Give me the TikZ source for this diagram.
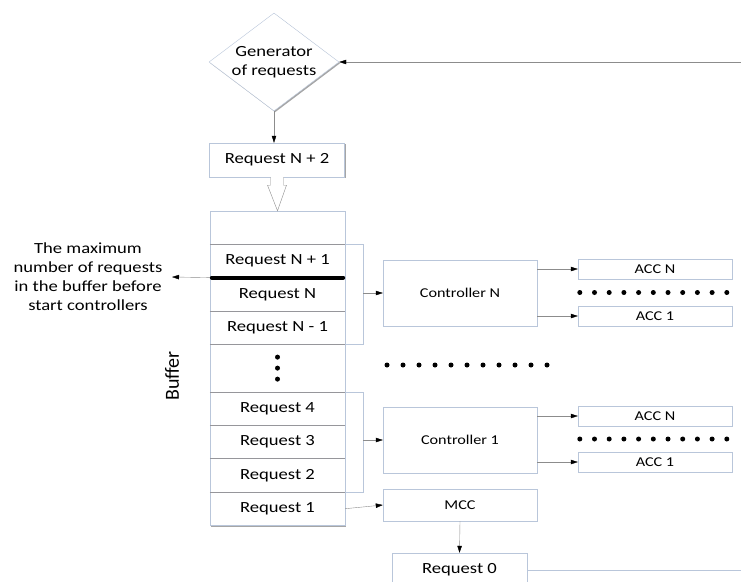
\documentclass[tikz,border=0pt]{standalone}
\usepackage{fontspec}
\setmainfont[FakeStretch=1.2]{Carlito}
\newfontfamily\plainfamily{Carlito}
\usepackage{tikz}
\usetikzlibrary{shapes,arrows.meta,positioning,calc,shadows,backgrounds}

\definecolor{boxline}{RGB}{185,198,218}
\definecolor{divider}{RGB}{150,150,155}
\definecolor{linegray}{RGB}{140,140,140}

\newcommand{\reqfont}{\fontsize{15.5}{19}\selectfont}
\newcommand{\ctrlfont}{\fontsize{13.5}{16}\selectfont}
\newcommand{\buffont}{\plainfamily\fontsize{20}{24}\selectfont}

\tikzset{
  box/.style={draw=boxline, fill=white, inner sep=0pt,
    drop shadow={shadow xshift=1.2pt, shadow yshift=-1.2pt, fill=black, opacity=0.35}},
  reqbox/.style={box, minimum width=135pt, minimum height=34pt, font=\reqfont},
  row/.style={minimum width=135pt, minimum height=33pt, inner sep=0pt, font=\reqfont},
  ctrlbox/.style={box, minimum width=154pt, font=\ctrlfont},
  accbox/.style={box, minimum width=154pt, minimum height=20pt, font=\ctrlfont},
  link/.style={draw=linegray, -{Triangle[length=7pt,width=4.5pt,color=black]}},
  bracket/.style={draw=boxline},
  bdot/.style={circle, fill=black, inner sep=0pt, minimum size=5pt},
}

\begin{document}
\begin{tikzpicture}[x=1pt, y=-1pt]
    \useasboundingbox (0,0) rectangle (741,581);

    % Generator
    \node[box, diamond, aspect=1.33, minimum width=130pt, minimum height=98pt, font=\reqfont, align=center]
        (gen) at (274,62) {Generator\\of requests};
    \coordinate (fbin) at (741,62);
    \draw[link] (fbin) -- (gen.east);

    \node[reqbox] (rn2) at (277,160) {Request N + 2};
    \draw[link] (gen.south) -- (gen.south |- rn2.north);

    % Buffer
    \node[row] (btop) at (277.5,227.5) {};
    \node[row, below=0pt of btop] (rn1) {Request N + 1};
    \node[row, below=0pt of rn1] (rn) {Request N};
    \node[row, below=0pt of rn] (rnm1) {Request N - 1};
    \node[row, minimum height=47pt, below=0pt of rnm1] (bgap) {};
    \node[row, below=0pt of bgap] (r4) {Request 4};
    \node[row, below=0pt of r4] (r3) {Request 3};
    \node[row, below=0pt of r3] (r2) {Request 2};
    \node[row, below=0pt of r2] (r1) {Request 1};
    \begin{scope}[on background layer]
        \draw[box] (btop.north west) rectangle (r1.south east);
    \end{scope}
    \foreach \a in {btop,rn,rnm1,bgap,r4,r3,r2}
        \draw[divider] (\a.south west) -- (\a.south east);
    \foreach \i in {-1,0,1}
        \node[bdot] (bd\i) at ($(bgap.center)+(0,\i*11)$) {};
    \draw[line width=4pt, line cap=round] ($(rn1.south west)+(2,0)$) -- ($(rn1.south east)+(-2,0)$);
    \node[rotate=90, font=\buffont] (buflabel) at (172,376) {Buffer};

    % Note
    \node[font=\reqfont, align=center, inner sep=0pt] (maxnote) at (88,277)
        {The maximum\\number of requests\\in the buffer before\\start controllers};
    \coordinate (maxtip) at (172,277);
    \draw[link] (rn1.south west) -- (maxtip);

    % Hollow arrow into buffer
    \draw[draw=linegray, fill=white] ($(rn2.south)+(-6.5,0)$) -- ++(0,8) -- ++(-3,0) -- (btop.north)
        -- ($(rn2.south)+(9.5,8)$) -- ++(-3,0) -- ($(rn2.south)+(6.5,0)$);

    % Controller N
    \node[ctrlbox, minimum height=66pt] (ctrlN) at (460,293) {Controller N};
    \node[accbox] (accNN) at (655,269) {ACC N};
    \node[accbox] (accN1) at (655,316) {ACC 1};
    \coordinate (brN) at ($(rn1.north east)+(18,0)$);
    \draw[bracket] (rn1.north east) -- (brN) |- (rnm1.south east);
    \draw[link] (brN |- ctrlN.west) -- (ctrlN.west);
    \draw[link] (ctrlN.east |- accNN) -- (accNN.west);
    \draw[link] (ctrlN.east |- accN1) -- (accN1.west);
    \foreach \i in {0,...,10}
        \node[bdot] (dN\i) at ($(accNN.south west)!.5!(accN1.north west)+(\i*14.7+2,0)$) {};

    % Between controllers
    \foreach \i in {0,...,10}
        \node[bdot] (dm\i) at (387+\i*16,365) {};

    % Controller 1
    \node[ctrlbox, minimum height=66pt] (ctrl1) at (460,440) {Controller 1};
    \node[accbox] (acc1N) at (655,416) {ACC N};
    \node[accbox] (acc11) at (655,462) {ACC 1};
    \coordinate (br1) at ($(r4.north east)+(18,0)$);
    \draw[bracket] (r4.north east) -- (br1) |- (r2.south east);
    \draw[link] (br1 |- ctrl1.west) -- (ctrl1.west);
    \draw[link] (ctrl1.east |- acc1N) -- (acc1N.west);
    \draw[link] (ctrl1.east |- acc11) -- (acc11.west);
    \foreach \i in {0,...,10}
        \node[bdot] (d1\i) at ($(acc1N.south west)!.5!(acc11.north west)+(\i*14.7+2,0)$) {};

    % MCC
    \node[ctrlbox, minimum height=32pt] (mcc) at (460,505) {MCC};
    \draw[link] (r1.east) -- (mcc.west);
    \node[reqbox] (rq0) at (459.5,570) {Request 0};
    \draw[link] (mcc.south) -- (rq0.north);
    \coordinate (fbout) at (741,570);
    \draw[bracket] (rq0.east) -- (fbout);
\end{tikzpicture}
\end{document}
